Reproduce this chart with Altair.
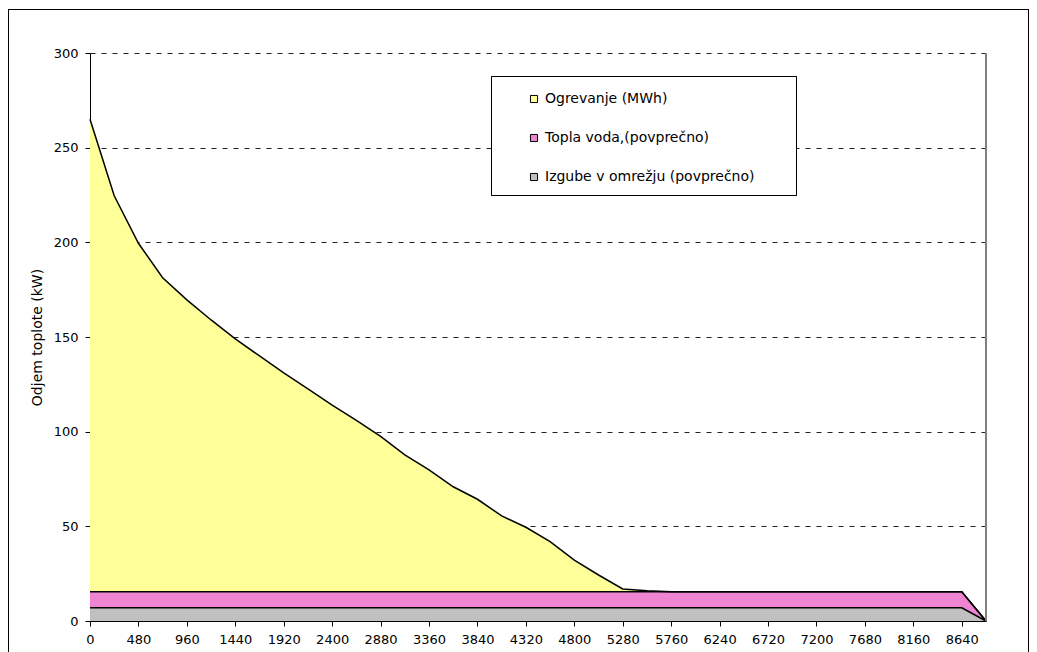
import altair as alt
import pandas as pd

hours = [0, 240, 480, 720, 960, 1200, 1440, 1680, 1920, 2160, 2400, 2640, 2880,
         3120, 3360, 3600, 3840, 4080, 4320, 4560, 4800, 5040, 5280, 5520, 5760,
         6000, 6240, 6480, 6720, 6960, 7200, 7440, 7680, 7920, 8160, 8400, 8640, 8880]

ogrevanje = [249.5, 209.1, 184.0, 165.8, 154.1, 143.5, 133.5, 124.5, 115.5, 107.1,
             98.5, 90.5, 82.0, 72.2, 64.3, 55.4, 48.8, 40.0, 34.0, 26.4, 16.7, 8.8,
             1.4, 0.5, 0, 0, 0, 0, 0, 0, 0, 0, 0, 0, 0, 0, 0, 0]

topla_voda = [8.5] * 37 + [0]
izgube = [7.0] * 37 + [0]

series_names = ["Ogrevanje (MWh)", "Topla voda,(povprečno)", "Izgube v omrežju (povprečno)"]
series_colors = ["#FFFF99", "#EE84D2", "#C0C0C0"]
stack_order = [2, 1, 0]

y_ticks = [0, 50, 100, 150, 200, 250, 300]

rows = []
for name, vals, order in zip(series_names, [ogrevanje, topla_voda, izgube], stack_order):
    for h, v in zip(hours, vals):
        rows.append({"hour": h, "value": v, "series": name, "order": order})
df = pd.DataFrame(rows)

W, H = 896, 568

xenc = alt.X("hour:Q",
             scale=alt.Scale(domain=[0, 8880], nice=False, zero=True),
             axis=alt.Axis(values=hours, format="d",
                           labelExpr="datum.value % 480 == 0 ? datum.label : ''",
                           title=None, grid=False, tickSize=5, labelPadding=7,
                           tickColor="black", domainColor="black",
                           labelColor="black", labelFontSize=13, labelFlush=False,
                           labelOverlap=False))

yscale = alt.Scale(domain=[0, 300], nice=False)

base = alt.Chart(df).transform_stack(
    stack="value", groupby=["hour"], as_=["y0", "y1"],
    sort=[alt.SortField("order", order="ascending")]
)

area = base.mark_area(interpolate="linear").encode(
    x=xenc,
    y=alt.Y("y1:Q", scale=yscale,
            axis=alt.Axis(values=y_ticks, title="Odjem toplote (kW)",
                          grid=True, gridDash=[5, 6], gridColor="#222222",
                          gridWidth=1, tickSize=5, labelPadding=7,
                          tickColor="black", domainColor="black",
                          labelColor="black", labelFontSize=13,
                          titleFontSize=14, titleFontWeight="normal",
                          titleColor="black", titlePadding=9)),
    y2="y0:Q",
    color=alt.Color("series:N",
                    scale=alt.Scale(domain=series_names, range=series_colors),
                    legend=alt.Legend(title=None, orient="none",
                                      legendX=401, legendY=24,
                                      padding=15, symbolOffset=21,
                                      symbolType="square", symbolSize=50,
                                      symbolStrokeColor="black",
                                      symbolStrokeWidth=1,
                                      labelFontSize=14, labelColor="black",
                                      labelOffset=4, rowPadding=25,
                                      labelLimit=400)),
)

lines = base.mark_line(color="black", strokeWidth=1.5).encode(
    x=alt.X("hour:Q", scale=alt.Scale(domain=[0, 8880], nice=False)),
    y=alt.Y("y1:Q", scale=yscale),
    detail="series:N",
)

right_border = alt.Chart(df).mark_rule(color="#808080", strokeWidth=1).encode(
    x=alt.value(W), y=alt.value(0), y2=alt.value(H)
)

frame = alt.Chart(df).mark_rect(fill="white", fillOpacity=0, stroke="black",
                                strokeWidth=1).encode(
    x=alt.value(-81.5), x2=alt.value(938.5), y=alt.value(-43.5), y2=alt.value(700)
)

legend_box = alt.Chart(df).mark_rect(fill="white", stroke="black",
                                     strokeWidth=1).encode(
    x=alt.value(401.5), x2=alt.value(706.5), y=alt.value(23.5), y2=alt.value(142.5)
)

chart = alt.layer(frame, area, lines, right_border, legend_box).properties(
    width=W, height=H,
    autosize=alt.AutoSizeParams(type="none"),
    padding={"left": 82, "top": 45, "right": 43, "bottom": 40},
    background="white",
).configure(font="DejaVu Sans").configure_view(stroke=None)

chart.save("out.html", embed_options={"renderer": "svg", "actions": False})
